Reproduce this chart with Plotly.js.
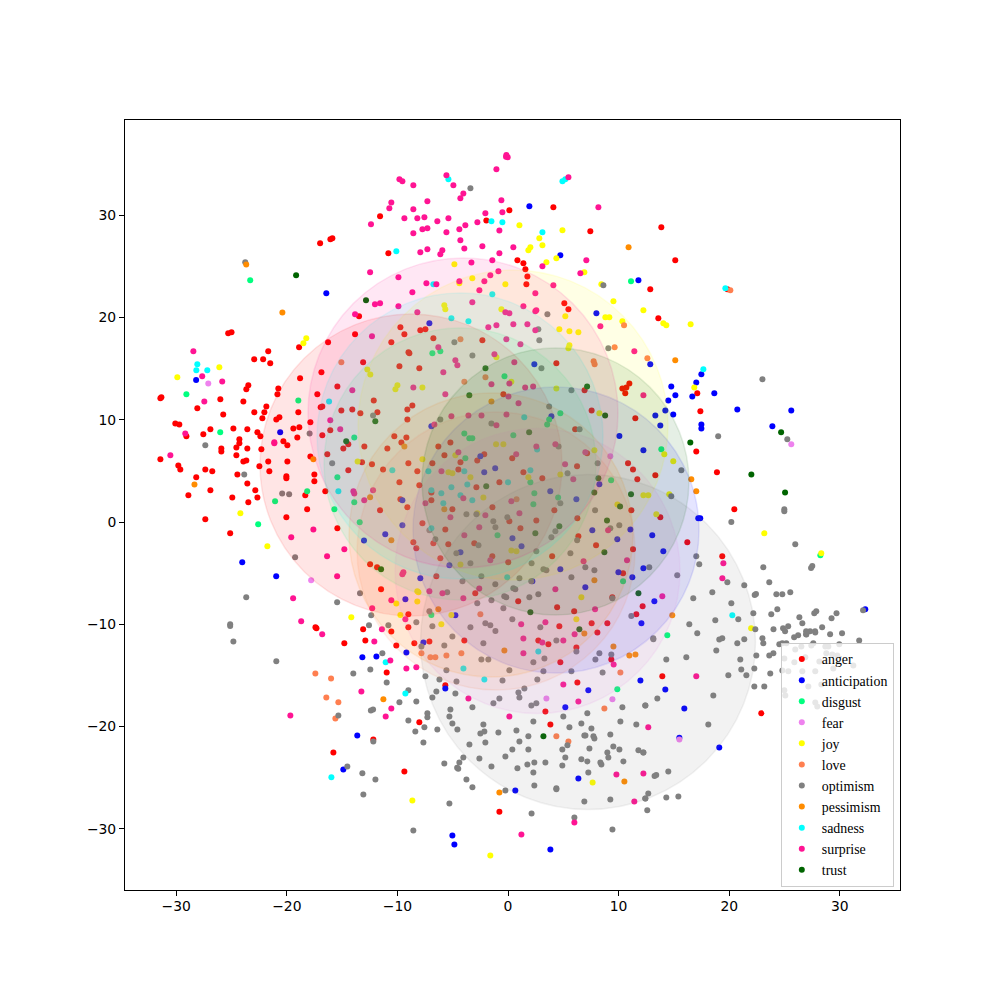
<!DOCTYPE html>
<html><head><meta charset="utf-8">
<script src="https://cdn.plot.ly/plotly-3.0.1.min.js"></script>
<style>html,body{margin:0;padding:0;background:#fff}</style></head>
<body><div id="chart" style="width:1000px;height:1000px"></div>
<script>
const anger=[[-11.57,29.91],[-16.99,27.27],[-16.06,27.66],[-15.88,27.76],[-25.3,18.47],[-25.0,18.56],[-22.95,15.92],[-22.14,15.92],[-21.68,16.7],[-21.5,15.53],[-18.89,17.1],[-16.27,17.59],[-13.83,18.37],[-13.47,20.13],[-13.1,15.63],[-16.87,14.65],[-18.8,14.06],
[-10.82,26.29],[0.12,30.5],[-1.96,29.51],[4.1,30.79],[7.44,28.44],[0.85,25.6],[1.39,25.31],[1.57,24.72],[1.75,24.03],[1.66,23.25],[5.09,21.4],[5.46,20.81],[-9.73,19.05],[-9.37,18.37],[-10.55,17.59],[-7.93,18.76],[-7.47,18.86],[-6.75,17.97],[-2.32,17.78],[-9.0,16.6],[-8.92,16.5],[-9.82,15.24],[-8.02,15.04],[4.37,15.53],
[13.86,28.83],[15.12,25.6],[12.86,22.77],[13.59,19.93],[19.83,22.77],
[-15.43,13.27],[-23.48,13.37],[-23.66,12.98],[-20.77,13.07],[-20.85,12.49],[-17.24,12.49],[-31.43,12.1],[-31.34,12.2],[-26.01,12.0],[-23.93,11.8],[-12.14,11.9],[-28.09,11.12],[-21.85,11.31],[-16.94,11.22],[-16.79,11.31],[-15.07,10.92],[-14.08,11.02],[-11.81,10.73],[-13.35,10.63],[-25.75,10.53],[-22.94,10.73],[-22.03,10.73],[-18.96,10.73],[-22.21,10.14],[-20.95,10.04],[-20.67,10.24],[-17.87,9.75],[-30.08,9.65],[-29.72,9.55],[-29.08,8.38],[-26.91,9.07],[-27.55,8.58],[-24.83,9.16],[-23.57,9.07],[-22.66,8.77],[-22.39,8.38],[-19.41,9.16],[-18.87,9.26],[-16.07,8.97],[-19.05,8.28],[-16.79,8.48],[-24.29,8.09],[-24.29,7.7],[-20.31,7.89],[-19.95,7.5],[-24.56,7.3],[-23.57,7.2],[-22.3,7.11],[-25.92,7.2],[-25.92,6.91],[-14.89,7.2],[-14.44,7.6],[-12.99,7.4],[-16.34,6.62],[-17.87,6.42],[-24.56,6.52],[-31.43,6.13],[-23.93,5.93],[-23.66,6.03],[-21.68,5.93],[-19.95,5.93],[-13.2,5.84],[-12.3,5.64],[-29.81,5.54],[-29.63,5.15],[-22.48,5.45],[-27.37,5.15],[-26.74,4.96],[-21.58,4.96],[-14.44,5.06],[-11.3,5.15],[-24.47,4.66],[-28.19,4.37],[-20.04,4.47],[-20.04,4.27],[-17.51,4.66],[-17.51,3.98],[-23.57,3.78],[-26.91,3.1],[-22.85,3.1],[-28.9,2.61],[-24.93,2.41],[-22.66,2.41],[-23.48,1.93],[-18.33,2.61],[-16.52,3.0],[-18.16,1.24],[-27.37,0.26],[-20.04,0.46],[-25.12,-1.11],[-15.43,-0.62],[-11.57,1.14],[-12.47,-4.14],[-11.84,-4.43],[-11.48,-6.58],[-17.41,-10.3],[-17.32,-10.4],[-13.1,-10.5],
[-0.42,12.49],[6.92,12.88],[-8.65,11.41],[-9.1,11.02],[7.56,10.92],[-9.1,10.04],[11.51,10.14],[6.07,9.07],[-10.28,8.38],[-9.19,8.28],[-9.64,7.79],[-5.21,7.79],[-6.3,7.4],[-10.91,7.2],[-5.75,6.52],[-2.15,6.62],[-2.78,6.03],[0.38,6.23],[-4.3,5.84],[-6.84,5.74],[-9.01,5.74],[10.85,5.74],[6.24,5.45],[11.3,5.15],[-8.2,4.96],[-4.49,5.15],[1.39,4.86],[3.1,4.27],[11.69,4.18],[-9.82,3.88],[-8.02,3.59],[-0.78,3.88],[-2.86,3.39],[-6.93,2.9],[-9.73,2.22],[-6.93,2.12],[-9.1,1.44],[-5.03,1.24],[-1.41,1.44],[4.19,1.14],[11.15,1.14],[6.27,0.36],[2.56,0.16],[0.12,0.07],[-7.74,-0.13],[1.12,-0.62],[-5.67,-0.72],[6.36,-1.4],[-8.56,-1.99],[-6.75,-2.08],[-5.4,-2.18],[-3.05,-2.08],[-8.29,-2.57],[7.96,-2.28],[11.3,-2.67],[3.99,-3.35],[-6.12,-3.55],[-1.42,-3.35],[0.02,-3.94],[10.4,-5.02],[-6.48,-5.31],[-2.96,-6.97],[0.92,-7.76],[4.44,-8.34],[5.98,-8.73],[-9.01,-9.03],[12.17,-8.25],[11.6,-9.03],[-9.01,-10.3],[4.64,-10.2],[7.56,-9.91],[8.98,-9.91],[9.43,-7.37],[10.34,13.07],[10.7,13.17],[10.97,13.56],[10.6,12.59],[7.15,6.72],
[17.11,12.59],[17.39,10.83],[17.02,6.91],[18.89,4.86],[13.32,4.57],[20.46,1.24],[13.77,0.46],[16.21,-1.99],[19.37,-3.35],
[-14.8,-11.87],[-12.9,-11.58],[-15.79,-22.54],[-12.18,-21.27],
[-10.55,-10.7],[-10.1,-12.07],[-8.47,-11.87],[-7.11,-11.68],[-3.95,-11.58],[2.74,-11.58],[3.65,-11.97],[6.18,-12.27],[8.08,-10.8],[4.73,-13.73],[6.27,-15.69],[-5.67,-15.98],[-10.97,-14.71],[3.38,-18.53],[3.83,-19.8],[-8.02,-19.6],[-9.37,-24.4],[-0.78,-28.35],[9.34,-13.44],[13.95,-15.1],[22.9,-18.72]];
const anticipation=[[-28.2,13.9],[-16.43,22.38],[1.93,30.89],[4.73,26.09],[11.79,23.65],[7.99,20.42],[-7.11,19.44],[2.38,15.43],[12.86,15.43],[17.48,14.46],
[-20.6,8.77],[-24.03,-3.94],[-20.96,-5.3],[-13.02,-1.8],[-11.1,-1.2],
[-6.93,9.36],[-2.5,6.43],[-2.15,4.86],[-1.16,5.25],[-9.55,2.12],[-9.55,-0.32],[3.82,3.0],[6.18,2.22],[8.26,3.69],[3.92,10.34],[10.07,8.41],[12.24,7.01],[0.4,-1.6],[1.22,-2.38],[-4.3,-2.96],[-5.3,-4.23],[-7.93,-5.51],[-9.28,-7.56],[2.2,-5.8],[4.73,-4.63],[7.62,-0.81],[9.88,-1.69],[11.06,-0.72],[9.98,-4.92],[11.24,-5.41],[12.24,-4.53],[6.99,-6.39],[-4.76,-9.13],[12.06,-9.91],
[14.76,13.27],[17.02,13.66],[15.13,12.39],[14.49,11.9],[16.66,12.29],[18.65,12.59],[14.22,10.92],[13.32,10.43],[14.94,10.53],[13.77,9.45],[17.48,9.55],[17.48,9.16],[20.73,11.02],[25.61,10.92],[23.9,9.36],[17.2,0.36],[17.38,0.36],[13.04,-1.3],[14.04,-2.87],[13.23,-7.76],[32.3,-8.54],
[-13.17,-13.24],[-11.9,-13.15],[-13.63,-20.88],[-14.89,-24.2],
[-7.65,-11.78],[-9.19,-12.76],[-5.67,-16.28],[5.18,-18.13],[7.26,-16.47],[11.97,-15.5],[6.36,-25.08],[0.66,-26.26],[-5.03,-30.66],[-4.85,-31.54],[3.83,-32.03],
[14.22,-16.38],[15.94,-18.24],[15.49,-21.1],[19.1,-22.05]];
const disgust=[[-23.31,23.65],[11.12,23.55],[-6.84,16.51],[-6.12,16.7],[-0.32,14.26],
[-29.08,12.49],[-18.96,11.9],[-26.02,8.77],[-13.9,8.28],[-15.43,4.37],[-18.16,3.0],[-21.06,2.03],[-13.9,1.93],[-15.7,1.24],[-22.59,-0.23],[-13.41,-0.03],
[4.73,10.63],[3.72,10.04],[3.54,9.55],[0.48,8.48],[-3.95,8.67],[-3.5,8.19],[-3.23,8.19],[-3.86,6.23],[2.02,3.88],[2.38,2.81],[4.53,2.41],[2.29,1.73],[9.32,4.08],[-0.95,-1.3],[10.4,-5.8],[-6.93,-9.1],
[13.86,7.11],[28.24,-3.26],[14.4,-11.08],[9.88,-16.37]];
const fear=[[-27.1,13.56],[-17.8,-5.7],[9.25,6.43],[25.61,7.6],[3.47,-17.26],[9.44,-17.35],[15.49,-21.27]];
const joy=[[-18.24,17.97],[-18.5,17.48],[-26.1,15.13],[-29.9,14.16],[-12.72,14.93],[-12.45,14.44],
[1.03,29.03],[2.83,27.76],[3.11,27.07],[2.02,26.87],[1.84,26.58],[4.92,28.54],[4.37,25.8],[3.47,25.41],[-4.85,25.21],[6.9,24.43],[8.44,23.25],[9.53,21.6],[12.24,20.71],[-3.23,23.84],[-0.24,23.25],[-4.4,23.36],[-5.76,21.2],[-5.67,20.81],[-0.6,20.81],[5.18,20.13],[8.8,20.03],[9.16,20.03],[10.34,19.64],[4.64,18.86],[5.55,18.66],[6.36,18.56],[5.55,17.29],[5.46,17.0],[-1.05,16.12],
[14.04,19.44],[14.31,19.25],[16.51,19.35],
[-13.6,5.93],[-24.2,0.85],[-21.76,-2.38],[-14.17,-9.32],
[-10.0,13.37],[-10.18,12.98],[-7.74,13.17],[4.37,13.07],[8.26,10.63],[7.81,7.01],[-1.08,7.6],[-0.42,7.6],[-4.76,6.52],[-7.74,6.13],[-5.39,4.86],[-5.03,4.76],[-3.4,4.37],[1.84,4.37],[4.73,4.66],[-2.23,2.41],[9.89,1.72],[12.24,2.61],[-2.78,0.85],[-4.3,-4.15],[0.3,-2.78],[0.76,-2.87],[-8.2,-6.78],[-8.1,-6.88],[-8.2,-7.77],[-10.1,-7.96],[-9.73,-9.1],[-5.12,-9.1],[-6.03,-10.0],[6.18,-9.52],[6.63,-7.37],[0.3,13.73],
[16.84,13.17],[14.13,6.62],[14.94,5.94],[12.68,2.61],[14.58,2.71],[13.41,0.75],[23.17,-1.11],[28.32,-3.06],[21.98,-10.4],
[-8.65,-27.24],[-1.6,-32.62],[7.65,-25.48]];
const love=[[-15.07,15.63],[20.1,22.67],[12.6,16.02],[10.49,19.25],[9.64,17.1],[7.74,15.73],[7.83,15.43],[-4.3,17.88],[-2.04,14.16],[0.77,2.22],[-2.5,-9.03],[-3.95,13.73],
[-17.42,-14.81],[-16.0,-15.3],[-16.43,-17.16],[-15.34,-17.64],[-15.61,-19.21],
[-7.83,-12.85],[-7.02,-13.24],[-6.57,-13.24],[-5.57,-13.05],[-4.22,-12.85],[10.16,-14.71],[8.71,-18.24],[4.37,-20.97],[5.46,-21.46]];
const optimism=[[-23.76,25.41],[-3.4,32.65],[8.62,23.16],[3.56,20.32],[2.74,18.86],[2.83,17.78],[-4.85,17.59],[-3.22,16.3],[9.07,17.0],[3.02,15.04],[23.0,13.97],
[-12.2,10.43],[-17.94,8.67],[-27.37,7.5],[-15.9,5.74],[-23.85,4.66],[-20.42,2.8],[-19.79,2.71],[-19.25,-3.45],[-13.38,-6.97],[-23.67,-7.37],[-15.45,-7.85],[-12.37,-9.13],[-12.57,-10.1],[-25.12,-10.17],[-25.12,-10.0],
[5.73,12.88],[3.72,11.31],[-6.12,10.04],[-1.5,9.65],[6.47,9.07],[4.57,7.4],[8.1,5.74],[5.38,4.76],[4.73,1.83],[7.87,1.14],[-3.76,0.75],[-2.86,0.75],[-0.06,0.46],[-1.33,0.07],[-1.14,-0.52],[-7.11,-0.81],[-6.57,-1.69],[-2.67,-2.28],[-4.67,-3.06],[2.56,-2.87],[4.28,-0.91],[3.92,-1.5],[6.25,-1.79],[9.25,-0.62],[10.06,-0.32],[5.64,-3.06],[2.13,-4.04],[-3.4,-4.04],[6.99,-4.43],[7.81,-4.73],[3.2,-4.63],[3.47,-4.72],[-2.41,-5.31],[1.03,-5.51],[5.73,-5.41],[-4.12,-5.8],[-1.15,-6.1],[2.1,-5.8],[0.48,-6.49],[0.66,-6.58],[-5.5,-6.88],[-0.34,-7.27],[-0.16,-7.37],[-1.5,-7.66],[-2.78,-7.95],[1.93,-7.37],[2.74,-7.07],[9.43,-7.46],[-7.11,-8.73],[-0.42,-8.44],[0.39,-9.52],[-8.29,-9.81],[-6.84,-10.2],[-10.82,-10.1],[-3.4,-10.3],[-2.05,-9.91],[-1.6,-10.1],[2.92,-10.3],[11.15,-9.2],
[19.0,8.38],[25.25,8.09],[15.67,5.06],[14.76,2.51],[20.19,0.0],[24.98,1.24],[24.98,1.05],[25.97,-2.18],[17.02,-3.35],[17.29,-4.14],[12.77,-4.43],[15.3,-5.21],[23.08,-4.43],[27.4,-4.5],[27.51,-4.3],[19.83,-5.9],[23.62,-5.9],[21.36,-6.19],[18.47,-6.88],[16.75,-7.46],[22.3,-7.15],[22.42,-7.03],[24.26,-7.07],[24.8,-7.07],[25.52,-6.88],[20.19,-7.95],[22.18,-8.93],[20.82,-9.52],[18.74,-9.62],[16.39,-10.01],[17.11,-10.89],[23.8,-9.03],[24.35,-8.54],[26.34,-9.32],[26.61,-9.91],[27.69,-8.93],[27.87,-8.73],[29.7,-8.93],[29.25,-9.42],[32.1,-8.64],[22.36,-10.5],[24.0,-10.5],[24.87,-10.4],[25.05,-10.69],[25.33,-10.2],[25.87,-11.28],[26.23,-11.08],[26.95,-10.69],[26.95,-10.98],[27.31,-10.69],[27.76,-10.69],[28.4,-10.3],[29.12,-10.98],[30.2,-10.89],[13.13,-11.38],[19.37,-11.38],[19.1,-11.5],[21.36,-11.47],[23.0,-11.38],[31.75,-11.6],
[-24.83,-11.68],[-20.95,-13.63],[-13.99,-14.81],[-12.45,-14.42],[-11.36,-12.85],[-15.34,-18.92],[-12.4,-18.45],[-12.2,-18.35],[-12.18,-21.46],[-14.53,-23.91],[-13.17,-24.59],[-11.99,-25.18],[-13.08,-26.65],
[-7.83,-12.17],[-5.76,-12.07],[-5.03,-11.19],[-2.23,-11.87],[-1.14,-10.67],[4.37,-11.58],[6.18,-12.66],[8.26,-12.85],[7.9,-13.44],[9.34,-12.95],[-2.41,-13.44],[-1.78,-13.44],[2.29,-13.73],[3.29,-13.34],[0.12,-14.51],[-5.57,-14.51],[3.2,-14.61],[5.73,-14.61],[8.55,-14.71],[-0.5,-15.5],[2.65,-15.4],[-7.47,-15.1],[-6.2,-15.4],[-4.66,-15.59],[-6.48,-16.57],[-9.01,-16.47],[-4.76,-16.77],[-6.84,-17.16],[-9.82,-17.64],[-8.29,-17.55],[1.48,-16.28],[0.94,-16.67],[1.03,-17.16],[-0.78,-17.26],[-1.32,-17.74],[-3.22,-18.13],[-5.21,-18.33],[2.11,-17.94],[2.56,-17.74],[10.34,-18.13],[-7.29,-18.72],[-7.29,-19.11],[-5.3,-19.02],[7.17,-18.72],[5.0,-19.02],[2.29,-19.51],[-9.01,-19.41],[-7.56,-20.09],[-5.03,-19.7],[-2.23,-19.8],[-4.58,-20.29],[-6.39,-20.29],[-8.38,-20.49],[-2.5,-20.68],[-2.14,-20.49],[-0.87,-20.58],[0.76,-20.39],[1.84,-20.97],[5.55,-20.09],[6.63,-19.7],[7.54,-20.19],[10.16,-19.51],[11.6,-19.8],[6.9,-20.88],[7.0,-20.88],[7.72,-20.97],[7.81,-21.17],[9.25,-20.78],[-7.65,-21.56],[-2.05,-21.56],[-3.49,-21.76],[1.03,-21.46],[5.37,-21.85],[4.91,-22.25],[1.84,-22.25],[0.39,-22.25],[7.36,-22.15],[9.52,-21.95],[10.07,-22.25],[8.98,-22.54],[11.79,-22.34],[12.24,-22.54],[-0.24,-22.93],[-4.04,-23.03],[-2.59,-23.13],[5.18,-23.03],[9.07,-23.03],[6.63,-23.22],[7.17,-23.42],[10.43,-23.42],[2.38,-23.52],[3.38,-23.52],[1.75,-23.71],[8.35,-23.52],[8.44,-23.71],[-4.4,-23.52],[-5.76,-23.62],[-4.6,-24.05],[-4.5,-24.15],[-1.5,-23.91],[0.85,-24.1],[4.91,-23.81],[2.29,-24.5],[7.26,-24.5],[-3.76,-25.18],[-3.22,-25.96],[2.38,-25.77],[-0.24,-26.26],[4.37,-26.05],[4.37,-26.15],[6.9,-27.33],[9.25,-27.14],[-5.3,-27.53],[2.13,-28.51],[6.0,-28.9],[-8.56,-30.17],[9.44,-30.07],[12.42,-27.04],[12.42,-17.94],[-10.97,-15.69],
[13.14,-11.48],[20.73,-11.87],[18.83,-12.56],[23.08,-11.87],[26.97,-11.0],[27.78,-10.8],[24.53,-11.97],[24.8,-11.87],[25.16,-11.87],[26.52,-12.17],[27.42,-12.07],[27.6,-11.87],[28.69,-12.17],[28.96,-12.17],[29.95,-11.97],[25.97,-12.46],[22.45,-13.05],[23.62,-13.05],[23.99,-12.85],[28.78,-12.85],[29.32,-12.95],[29.77,-13.05],[24.98,-13.34],[25.89,-13.73],[26.88,-13.24],[28.15,-13.64],[31.22,-14.03],[14.31,-13.44],[16.12,-13.24],[21.0,-13.44],[29.41,-14.32],[21.09,-14.42],[22.27,-14.32],[24.8,-14.52],[25.34,-14.61],[26.61,-14.61],[27.78,-14.61],[21.55,-15.0],[19.92,-15.0],[23.71,-14.81],[28.33,-15.89],[22.27,-16.08],[23.17,-16.08],[27.15,-16.08],[24.98,-16.47],[25.07,-16.96],[18.56,-16.96],[13.5,-17.26],[12.41,-17.94],[27.78,-17.65],[27.96,-18.04],[18.11,-19.8],[12.23,-22.54],[14.49,-24.4],[13.25,-24.85],[13.4,-24.75],[12.68,-26.55],[12.41,-27.04],[14.31,-26.94],[15.4,-26.85],[12.59,-28.21]];
const pessimism=[[-23.67,25.2],[-20.4,20.5],[10.9,26.87],[15.12,15.83],
[-17.6,6.13],[-28.35,3.68],[-12.47,2.42],
[-1.5,11.8],[-9.37,7.4],[-5.76,1.24],[-10.55,-1.79],[-6.3,-8.54],[7.81,-5.7],[6.9,-10.9],
[16.57,4.18],[17.02,3.0],[14.85,-9.13],[-11.27,-17.35],
[-0.33,-12.56],[9.53,-12.17],[10.97,-13.05],[11.52,-12.95],[10.52,-25.38],[-0.78,-26.45]];
const sadness=[[-28.09,15.43],[-28.18,14.84],[-27.19,14.84],
[-10.1,26.49],[-5.39,33.53],[4.92,33.33],[5.18,33.53],[-1.5,29.42],[-0.51,29.32],[3.11,28.34],[-6.75,23.25],[-1.42,22.28],[-5.12,19.93],[-3.58,19.64],
[19.65,22.87],[17.66,14.94],[-16.18,11.8],[-15.34,3.0],
[-10.46,5.06],[-7.2,4.96],[-6.93,3.1],[-6.03,2.81],[-5.12,3.39],[-3.68,3.68],[-3.95,4.96],[-4.3,2.61],[-5.85,1.83],[-3.23,2.12],[0.0,3.88],[2.02,5.06],[2.63,7.1],[1.47,10.24],[-6.93,-0.62],[-0.07,-5.41],
[20.28,-9.13],[-15.97,-24.98],[-4.03,-14.32],[-2.14,-15.4],[2.74,-12.66],[-9.28,-16.77],[-11.06,-13.73]];
const surprise=[[-12.39,29.13],[-12.47,24.43],[-13.83,20.32],[-12.03,21.3],[-11.57,21.4],[-28.45,16.7],[-27.65,14.26],[-12.3,18.17],[-25.84,13.75],
[-0.18,35.74],[-0.03,35.68],[-0.15,35.9],[-1.05,34.5],[-5.57,33.92],[-4.94,32.94],[-4.04,32.15],[-4.31,31.67],[-9.82,33.53],[-9.55,33.33],[-8.56,32.94],[-10.55,31.27],[-10.73,30.69],[-7.29,31.37],[-8.56,30.59],[-9.37,29.71],[-8.2,29.71],[-7.56,29.81],[-6.39,29.42],[-5.39,29.71],[-7.74,28.64],[-7.29,28.73],[-8.56,28.24],[-5.57,28.34],[-4.4,28.64],[-3.86,29.03],[-2.77,29.32],[-2.05,30.2],[-0.6,31.47],[-0.51,30.3],[-0.78,28.53],[-4.31,27.56],[-3.95,26.77],[-2.32,26.97],[-7.29,26.68],[-7.93,26.38],[-5.94,26.58],[-6.12,26.19],[-0.78,26.29],[0.48,26.87],[-3.31,25.4],[-1.42,25.6],[3.11,25.01],[7.08,25.6],[6.54,24.33],[8.17,30.79],[5.46,33.72],[-9.91,23.94],[-7.38,23.35],[-6.48,23.25],[-8.65,22.47],[-4.4,23.55],[-2.14,23.55],[-1.6,24.14],[-0.87,24.53],[-2.59,22.67],[4.1,23.16],[2.47,22.38],[-9.91,21.11],[-8.2,20.52],[-3.23,21.5],[1.39,21.11],[-0.24,20.52],[0.12,20.42],[2.47,20.62],[2.56,20.72],[-1.78,19.05],[-1.05,19.25],[0.48,19.35],[1.75,19.35],[2.47,18.76],[8.35,19.15],[-0.15,17.88],[1.12,17.39],[-6.3,17.1],[-1.23,16.41],[-4.76,15.82],[-4.58,15.33],[-5.85,14.65],[0.57,15.63],[11.42,16.7],
[-27.46,11.8],[-14.08,12.88],[-16.07,9.95],[-15.17,9.07],[-29.18,8.67],[-21.13,7.8],[-21.13,7.7],[-30.53,6.52],[-13.98,3.0],[-13.9,2.8],[-13.0,2.12],[-12.2,3.1],[-17.6,-0.72],[-19.6,-1.5],[-14.8,-2.67],[-16.36,-3.35],[-15.45,-5.31],[-19.43,-7.46],[-18.7,-9.7],[-16.8,-10.98],[-12.28,-8.44],[-11.4,-10.5],
[-8.56,13.17],[-5.67,12.49],[-1.5,13.47],[0.12,13.56],[1.55,13.17],[2.27,13.27],[0.04,12.29],[0.95,11.61],[12.24,12.39],[-6.66,9.55],[-5.12,10.34],[-3.58,10.43],[-2.4,10.43],[-0.14,10.53],[-1.05,9.46],[-4.49,6.82],[0.74,6.62],[2.56,7.4],[4.28,7.6],[6.99,6.82],[5.16,5.64],[-6.02,4.96],[5.9,4.18],[-4.04,2.32],[-7.47,1.83],[0.3,2.02],[-5.21,0.46],[-2.05,0.66],[1.03,0.85],[-2.6,-0.52],[-3.95,-1.3],[9.05,-0.81],[10.76,-3.75],[6.83,-3.85],[-1.6,-3.75],[-9.46,-4.92],[-9.55,-5.1],[-7.11,-6.78],[-5.93,-6.97],[-2.6,-6.5],[-4.04,-7.46],[4.28,-6.58],[-10.55,-7.66],[-9.28,-9.52],[7.87,-8.54],[1.19,-10.0],[3.38,-9.81],
[19.47,-4.04],[19.38,-5.51],[13.95,-7.27],
[-12.09,-11.68],[-13.26,-16.57],[-19.68,-18.92],
[-10.64,-13.54],[-9.19,-14.32],[-8.29,-14.22],[1.39,-11.39],[3.1,-11.78],[5.0,-11.58],[6.02,-10.97],[1.39,-12.85],[9.55,-13.93],[5.0,-15.89],[-3.58,-17.26],[6.36,-17.55],[-10.55,-18.24],[-11.06,-19.02],[0.12,-19.02],[9.8,-24.69],[12.24,-24.6],[11.42,-27.33],[6.0,-29.39],[1.21,-30.56],[17.02,-15.1],[12.68,-20.09]];
const trust=[[-19.16,24.14],[-12.84,21.7],[-2.04,15.04],[-12.0,9.85],[-14.63,7.89],[-11.48,-4.63],
[-3.5,12.39],[7.15,13.27],[8.78,10.43],[1.91,8.77],[-1.97,3.49],[8.17,4.27],[7.8,2.9],[11.12,2.71],[10.13,1.53],[8.95,0.16],[4.64,-0.42],[2.47,-1.11],[8.71,-2.96],[11.79,-6.98],[2.02,-8.83],[6.45,-10.5],
[16.48,7.79],[24.69,8.77],[22.0,4.66],[25.05,2.9],[3.2,-20.97]];

const names=["anger","anticipation","disgust","fear","joy","love","optimism","pessimism","sadness","surprise","trust"];
const colors=["#ff0000","#0000ff","#00ff7f","#ee82ee","#ffff00","#ff7f50","#808080","#ff8c00","#00ffff","#ff1493","#006400"];
const groups=[anger,anticipation,disgust,fear,joy,love,optimism,pessimism,sadness,surprise,trust];
const centerX=[-8.77,4.34,-4.34,2.67,0.45,-1.08,7.23,-1.54,-4.34,-4.07,4.29];
const centerY=[5.58,-0.78,5.68,-4.79,9.49,-2.84,-11.74,-1.27,8.41,10.67,3.96];
const spread=[302,286,272,285,310,278,335,284,286,310,267];
const xTicks=[-30,-20,-10,0,10,20,30];
const yTicks=[-30,-20,-10,0,10,20,30];

function rgba(hex,a){const n=parseInt(hex.slice(1),16);return `rgba(${n>>16},${(n>>8)&255},${n&255},${a})`;}
const traces=groups.map((g,i)=>({type:"scatter",mode:"markers",name:names[i],x:g.map(p=>p[0]),y:g.map(p=>p[1]),marker:{color:colors[i],size:6,line:{width:0}},hoverinfo:"x+y+name"}));
names.forEach((n,i)=>traces.push({type:"scatter",mode:"markers",x:[centerX[i]],y:[centerY[i]],showlegend:false,hoverinfo:"skip",
  marker:{size:spread[i],color:rgba(colors[i],0.1),line:{color:rgba(colors[i],0.1),width:1.5}}}));
const axisBase={showgrid:false,zeroline:false,showline:true,mirror:true,linecolor:"#000",linewidth:1,ticks:"outside",ticklen:5,tickwidth:1,tickcolor:"#000",tickfont:{family:"DejaVu Sans",size:13.9,color:"#000"}};
const layout={width:1000,height:1000,margin:{l:125,r:100,t:120,b:110,pad:0},paper_bgcolor:"#fff",plot_bgcolor:"#fff",showlegend:true,hovermode:"closest",
  xaxis:Object.assign({},axisBase,{range:[-34.63,35.44],tickmode:"array",tickvals:xTicks,ticklabelstandoff:-2}),
  yaxis:Object.assign({},axisBase,{range:[-36.0,39.33],tickmode:"array",tickvals:yTicks}),
  legend:{x:0.992,y:0.0045,xanchor:"right",yanchor:"bottom",bgcolor:"rgba(255,255,255,0.8)",bordercolor:"#ccc",borderwidth:1,font:{family:"Liberation Serif",size:13.9,color:"#000"},itemsizing:"trace",tracegroupgap:0}};
Plotly.newPlot("chart",traces,layout,{displayModeBar:false,responsive:false});
</script></body></html>
